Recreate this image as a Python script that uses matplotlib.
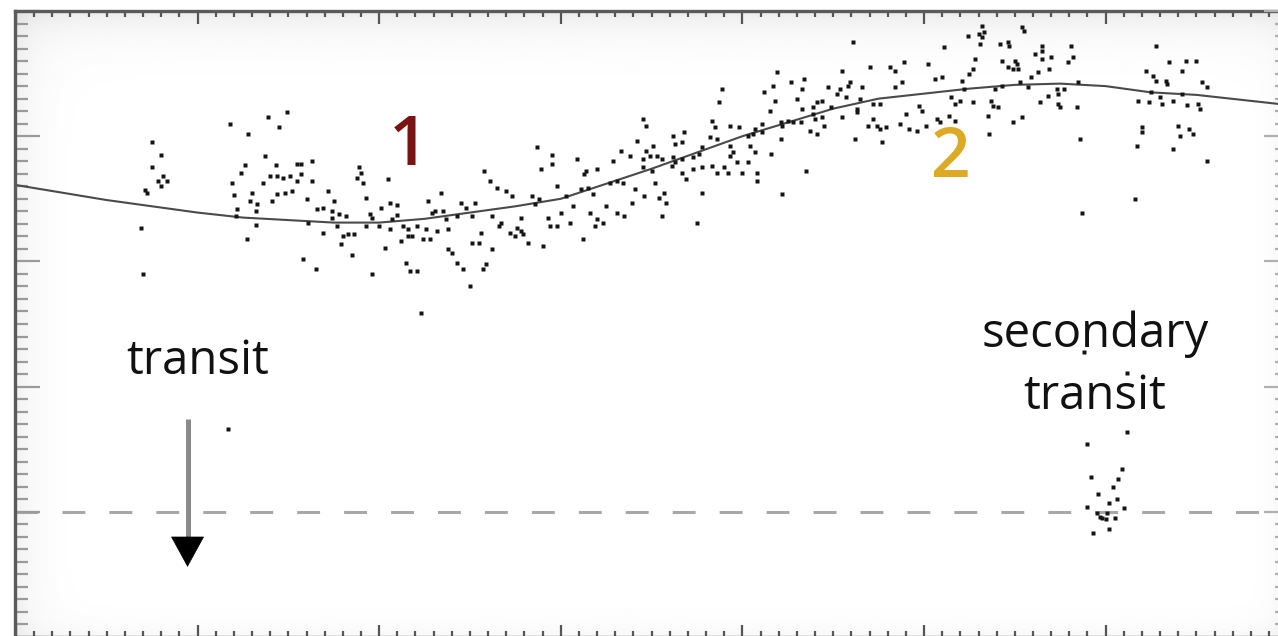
import numpy as np
import matplotlib
matplotlib.use("Agg")
import matplotlib.pyplot as plt
from matplotlib.ticker import MultipleLocator

plt.rcParams['font.family'] = ['Open Sans', 'DejaVu Sans']
plt.rcParams['lines.scale_dashes'] = False

# ---------------- data (phase units: 100 = one major tick; flux units: 100 = one major tick)
phase = [
    -31, -30, -25, -20, -25, -19, -22, -17, -20, -29, -28, 17,
    49, 18, 39, 28, 45, 37, 26, 24, 43, 55, 57, 63, 36, 40, 44, 47, 51, 57, 55, 63,
    19, 20, 30, 29, 33, 41, 44, 48, 52, 60, 22, 21, 32, 32, 27, 61, 66, 58, 65,
    89, 88, 91, 90, 105, 72, 75, 69, 74, 78, 82, 74, 69, 77, 80, 83, 86, 79, 85, 96,
    93, 95, 101, 96, 100, 93, 106, 110, 110, 107, 106, 113, 116, 121, 103, 112, 116, 118,
    115, 117, 121, 123, 127, 129, 131, 135, 134, 126, 128, 132, 138, 137, 124, 138, 140,
    143, 146, 150, 145, 148, 153, 143, 151, 156, 151, 155, 162, 159, 157, 158, 161, 165,
    162, 167, 166, 170, 173, 176, 178, 179, 172, 175, 178, 182, 187, 189, 195, 195, 184,
    186, 188, 193, 198, 203, 200, 194, 198, 190, 205, 207, 209, 214, 220, 213, 211, 215,
    218, 216, 220, 223, 212, 219, 225, 231, 235, 229, 233, 238, 227, 231, 234, 239, 241, 242,
    361, 411, 389, 402, 370, 381, 384, 355, 319, 334, 406, 410, 388, 384, 327, 333, 317,
    347, 354, 359, 358, 366, 289, 312, 330, 352, 357, 365, 344, 341, 415, 318, 287, 376,
    372, 417, 349, 339, 315, 333, 363, 397, 399, 339, 344, 340, 355, 363, 390, 372, 374,
    407, 414, 417, 245, 247, 283, 285, 293, 298, 307, 311, 321, 325, 328, 332, 322, 337,
    341, 345, 369, 376, 379, 387, 392, 396, 401, 409, 262, 268, 267, 282, 286, 303, 306,
    311, 316, 321, 362, 377, 251, 247, 263, 278, 276, 293, 295, 293, 304, 307, 245, 249,
    253, 256, 262, 263, 261, 267, 273, 273, 278, 283, 286, 290, 292, 297, 303, 300, 308,
    308, 250, 245, 267, 269, 252, 335, 246, 254, 257, 258, 278, 322, 256, 275,
    432, 433, 454, 455, 424, 430, 432, 431, 442, 446, 447, 465, 465, 481, 528, 428, 443,
    450, 451, 461, 465, 470, 482, 479, 427, 425, 446, 449, 452, 469, 463, 459, 421, 422,
    439, 443, 453, 457, 468, 473, 474, 477, 485, 420, 427, 437, 438, 441, 464, 474, 475,
    484, 435, 454, 449, 436, 486, 535, 544, 550, 542, 522, 526, 528, 533, 534, 525, 553,
    556, 530, 531, 537, 542, 518, 524, 545, 551, 552, 520, 520, 517, 540, 541, 546, 548,
    537, 556, 516, 487,
    488, 512, 512, 490, 509, 492, 507, 504, 496, 502, 506, 490, 510, 497, 498, 495, 505,
    502, 493, 501, 500,
]
flux = [
    227, 190, 295, 285, 275, 268, 264, 264, 260, 257, 255, 66,
    319, 310, 315, 302, 307, 284, 277, 271, 277, 278, 278, 280, 263, 268, 268, 267, 268, 270, 264, 264,
    263, 253, 255, 248, 246, 248, 254, 255, 256, 250, 242, 236, 240, 229, 218, 231, 242, 202, 194,
    275, 267, 263, 271, 266, 256, 248, 243, 240, 238, 236, 235, 223, 228, 220, 222, 222, 214, 205, 190,
    251, 238, 243, 235, 228, 228, 247, 245, 237, 234, 226, 228, 226, 228, 211, 216, 220, 220,
    199, 192, 192, 159, 248, 239, 240, 240, 255, 226, 218, 224, 226, 234, 218, 210, 207,
    199, 194, 180, 247, 243, 247, 236, 236, 223, 215, 215, 210, 198, 194, 272, 264, 259,
    236, 231, 228, 256, 252, 227, 224, 222, 223, 220, 235, 215, 291, 274, 285, 278, 252,
    246, 250, 235, 260, 252, 239, 228, 228, 212, 231, 244, 282, 272, 274, 270, 258, 259,
    254, 239, 234, 231, 218, 228, 244, 239, 236, 280, 288, 284, 263, 264, 263, 247, 258, 296,
    375, 371, 359, 358, 355, 355, 352, 352, 351, 346, 346, 347, 343, 339, 343, 338, 340,
    339, 338, 343, 340, 339, 338, 335, 330, 334, 331, 330, 328, 327, 331, 328, 327, 326,
    326, 326, 323, 323, 320, 322, 322, 324, 320, 318, 315, 314, 315, 319, 318, 314, 308,
    314, 316, 312, 314, 308, 312, 307, 308, 307, 306, 310, 311, 312, 311, 311, 308, 304,
    302, 308, 308, 306, 307, 310, 306, 304, 308, 311, 300, 303, 295, 299, 298, 300, 302,
    303, 286, 298, 298, 295, 292, 288, 294, 291, 286, 292, 287, 284, 292, 287, 282, 284,
    284, 282, 283, 279, 276, 282, 283, 274, 275, 276, 271, 275, 271, 279, 279, 271, 271,
    264, 272, 275, 271, 266, 263, 272, 252, 251, 255, 247, 255, 254, 236, 231,
    388, 383, 387, 384, 380, 382, 379, 374, 374, 375, 372, 372, 368, 372, 372, 362, 360,
    360, 358, 366, 362, 363, 363, 359, 354, 350, 355, 354, 354, 354, 351, 347, 344, 338,
    338, 340, 343, 339, 332, 338, 334, 338, 343, 328, 327, 328, 324, 323, 327, 326, 323,
    323, 316, 315, 311, 302, 298, 359, 360, 360, 352, 352, 348, 344, 344, 342, 335, 343,
    339, 331, 326, 328, 334, 328, 327, 325, 326, 322, 307, 303, 292, 308, 300, 306, 302,
    290, 280, 250, 239,
    128, 111, 64, 54, 34, 28, 26, 20, 14, 7, 10, 4, 3, -4, -5, -1, -5,
    -14, -17, -1, -6,
]

# smooth model curve
model_phase = [-100, -75, -50, -25, 0, 25, 50, 75, 100, 125, 150, 175, 200, 225, 250,
               275, 300, 325, 350, 375, 400, 425, 450, 475, 500, 525, 550, 575, 600]
model_flux = [261, 255, 249, 244, 239, 235, 233, 231, 231, 234, 239, 244, 250, 262, 274,
              287, 300, 311, 322, 330, 334, 338, 341, 342, 340, 335, 333, 329, 325]

eclipse_level = 0
labels = ["1", "2"]
label_pos = [(116, 291), (415, 281)]
label_colors = ["#7a1414", "#dcaa24"]

# ---------------- figure
W, H = 1278, 636
fig = plt.figure(figsize=(W / 100, H / 100), dpi=100)
fig.patch.set_facecolor("white")
ax = fig.add_axes([15 / W, -1 / H, 1265 / W, 626 / H])
ax.set_xlim(-100.5, 596)
ax.set_ylim(-100, 400)

# soft vignette background
ny, nx = 313, 632
yy = np.arange(ny)[:, None] * 2.0  # px from top
xx = np.arange(nx)[None, :] * 2.0  # px from left
bg = (1 - 0.075 * np.exp(-yy / 22.0) - 0.055 * np.exp(-xx / 20.0)
      - 0.03 * np.exp(-(626 - yy) / 14.0) - 0.03 * np.exp(-(1265 - xx) / 12.0))
ax.imshow(bg, cmap="gray", vmin=0, vmax=1, extent=(0, 1, 0, 1),
          transform=ax.transAxes, aspect="auto", zorder=0, interpolation="bilinear")

ax.axhline(eclipse_level, color="#a8a8a8", lw=2.2, dashes=(16.5, 17.3), zorder=1)
ax.plot(model_phase, model_flux, color="#4a4a4a", lw=1.5, zorder=2)
ax.plot(phase, flux, ls="none", marker="s", ms=2.7, mfc="#151515", mec="none", zorder=3)

for t, (px, py), c in zip(labels, label_pos, label_colors):
    ax.text(px, py, t, color=c, fontsize=50, fontweight="semibold",
            ha="center", va="center", zorder=4)

ax.text(0, 110, "transit", fontsize=34, color="#111111", ha="center", va="baseline", zorder=4)
ax.text(494, 132, "secondary", fontsize=34, color="#111111", ha="center", va="baseline", zorder=4)
ax.text(494, 82, "transit", fontsize=34, color="#111111", ha="center", va="baseline", zorder=4)

# arrow
arrow_x = -5.5
ax.plot([arrow_x, arrow_x], [74, -22], color="#8a8a8a", lw=3.6, solid_capstyle="butt", zorder=4)
ax.annotate("", xy=(arrow_x, -44), xytext=(arrow_x, -20),
            arrowprops=dict(arrowstyle="-|>,head_length=21,head_width=11.5",
                            color="black", lw=0.5, mutation_scale=1, shrinkA=0, shrinkB=0),
            zorder=5)

# ticks & spines
for s in ax.spines.values():
    s.set_color("#5a5a5a")
    s.set_linewidth(2.4)
ax.xaxis.set_major_locator(MultipleLocator(100))
ax.xaxis.set_minor_locator(MultipleLocator(10))
ax.yaxis.set_major_locator(MultipleLocator(100))
ax.yaxis.set_minor_locator(MultipleLocator(10))
ax.tick_params(axis="x", which="both", direction="in", top=True, bottom=True,
               labelbottom=False, labeltop=False, color="#555555", width=1.6)
ax.tick_params(axis="x", which="major", length=9)
ax.tick_params(axis="x", which="minor", length=4.5)
ax.tick_params(axis="y", which="both", direction="in", left=True, right=False,
               labelleft=False, labelright=False, color="#9a9a9a", width=1.6)
ax.tick_params(axis="y", which="major", length=18)
ax.tick_params(axis="y", which="minor", length=9.5)

ax2 = ax.twinx()
ax2.set_ylim(ax.get_ylim())
ax2.yaxis.set_major_locator(MultipleLocator(100))
ax2.yaxis.set_minor_locator(MultipleLocator(10))
ax2.tick_params(axis="y", which="both", direction="in", right=True, labelright=False,
                color="#b0b0b0", width=1.6)
ax2.tick_params(axis="y", which="major", length=11.5)
ax2.tick_params(axis="y", which="minor", length=3.6)
for s in ax2.spines.values():
    s.set_visible(False)

fig.savefig("out.png", dpi=100, facecolor="white")
